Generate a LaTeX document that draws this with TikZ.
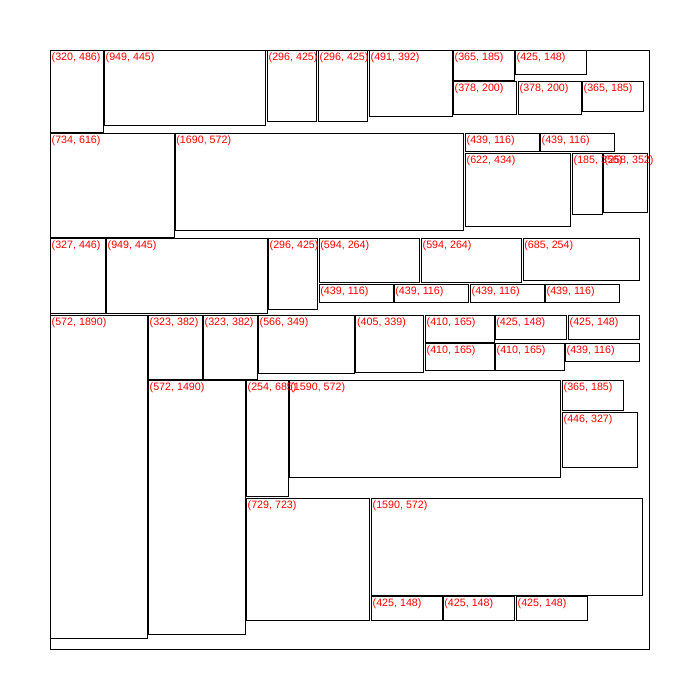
\documentclass[tikz,border=0pt]{standalone}
\usepackage{fontspec}
\setmainfont{Liberation Sans}
\usepackage{xcolor}
\definecolor{binink}{HTML}{000000}
\definecolor{tagred}{HTML}{FF0000}

\begin{document}
\begin{tikzpicture}[
  x=1pt,
  y=-1pt,
  bin/.style={binink, line width=0.9pt},
  item/.style={binink, line width=0.9pt},
  tag/.style={tagred, anchor=north west, inner xsep=1.2pt, inner ysep=2.6pt,
              font=\fontsize{10.7}{12}\selectfont}
]
  \useasboundingbox (0,0) rectangle (700,700);

  %% ---- container ---------------------------------------------------------
  \draw[bin] (50.3,50.3) rectangle (649.3,649.3);

  %% ---- placed items: left, top, right, bottom / width, height -----------
  \foreach \xa/\ya/\xb/\yb/\w/\h [count=\i] in {
      50.3/50.3/103.3/132.3/320/486,
      104.3/50.3/265.7/125.3/949/445,
      267.3/50.3/316.7/121.0/296/425,
      318.3/50.3/367.3/121.0/296/425,
      369.3/50.3/452.7/116.3/491/392,
      453.3/50.3/514.3/80.3/365/185,
      515.3/50.3/586.3/74.3/425/148,
      453.3/81.3/516.3/114.3/378/200,
      518.3/81.3/581.3/114.3/378/200,
      582.3/81.3/643.3/111.3/365/185,
      %% second band
      50.3/133.3/174.3/237.3/734/616,
      175.0/133.3/463.7/230.3/1690/572,
      465.3/133.3/539.3/151.3/439/116,
      540.3/133.3/614.3/151.3/439/116,
      465.3/153.3/570.3/226.3/622/434,
      572.3/153.3/602.3/214.0/185/356,
      603.3/153.3/647.3/212.3/258/352,
      %% third band
      50.3/238.3/105.3/313.3/327/446,
      106.3/238.3/267.7/313.3/949/445,
      268.3/238.3/317.7/309.3/296/425,
      319.0/238.3/419.7/282.3/594/264,
      421.3/238.3/521.7/282.3/594/264,
      523.0/238.3/639.3/280.3/685/254,
      319.0/284.3/393.3/302.0/439/116,
      394.0/284.3/468.7/302.0/439/116,
      470.3/284.3/544.7/302.0/439/116,
      545.3/284.3/619.3/302.0/439/116,
      %% fourth band
      50.3/315.0/147.3/638.3/572/1890,
      148.3/315.0/202.7/379.3/323/382,
      203.3/315.0/257.7/379.3/323/382,
      258.3/315.3/354.7/373.3/566/349,
      355.7/315.3/423.7/372.3/405/339,
      425.3/315.3/494.3/342.3/410/165,
      425.3/343.3/494.3/370.3/410/165,
      495.0/315.3/566.7/339.3/425/148,
      568.3/315.3/639.3/339.3/425/148,
      495.3/343.3/564.3/370.3/410/165,
      565.3/343.3/639.3/361.3/439/116,
      %% lower part
      148.3/380.0/245.3/634.3/572/1490,
      246.3/380.0/288.3/496.3/254/685,
      289.0/380.3/560.7/477.3/1590/572,
      562.3/380.3/623.3/410.3/365/185,
      562.3/412.3/637.3/467.3/446/327,
      246.3/498.3/369.7/620.0/729/723,
      371.3/498.3/642.3/595.3/1590/572,
      371.3/596.3/442.3/620.3/425/148,
      443.0/596.3/514.3/620.3/425/148,
      516.3/596.3/587.3/620.3/425/148}
  {
    \draw[item] (\xa,\ya) rectangle (\xb,\yb);
    \node[tag] (tag\i) at (\xa,\ya) {(\w, \h)};
  }
\end{tikzpicture}
\end{document}
